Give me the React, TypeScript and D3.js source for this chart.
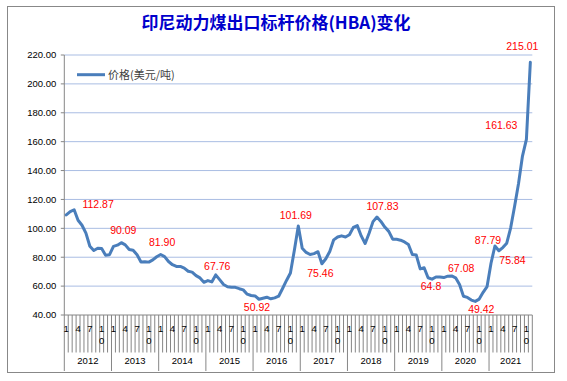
import React from "react";
import * as d3 from "d3";

const years = [2012, 2013, 2014, 2015, 2016, 2017, 2018, 2019, 2020, 2021];
const p2012 = [109.29, 111.58, 112.87, 105.61, 102.12, 96.65, 87.56, 84.65, 86.21, 86.04, 81.44, 81.75];
const p2013 = [87.55, 88.35, 90.09, 88.56, 85.33, 84.87, 81.69, 76.7, 76.89, 76.61, 78.13, 80.31];
const p2014 = [81.9, 80.44, 77.01, 74.81, 73.6, 73.64, 72.45, 70.29, 69.69, 67.26, 65.7, 62.65];
const p2015 = [63.84, 62.92, 67.76, 64.48, 61.08, 59.59, 59.16, 59.14, 58.21, 57.39, 54.43, 53.51];
const p2016 = [53.2, 50.92, 51.62, 52.32, 51.2, 51.87, 53.0, 58.37, 63.93, 69.07, 84.89, 101.69];
const p2017 = [86.23, 83.32, 81.9, 82.51, 83.81, 75.46, 78.95, 83.97, 92.03, 93.99, 94.8, 94.04];
const p2018 = [95.54, 100.69, 101.86, 94.75, 89.53, 96.61, 104.65, 107.83, 104.81, 100.89, 97.9, 92.51];
const p2019 = [92.41, 91.8, 90.57, 88.85, 81.86, 81.48, 71.92, 72.67, 65.79, 64.8, 66.27, 66.3];
const p2020 = [65.93, 66.89, 67.08, 65.77, 61.11, 52.98, 52.16, 50.34, 49.42, 51.0, 55.71, 59.65];
const p2021 = [75.84, 87.79, 84.47, 86.68, 89.74, 100.33, 115.35, 130.99, 150.03, 161.63, 215.01];
const pricesByYear = [p2012, p2013, p2014, p2015, p2016, p2017, p2018, p2019, p2020, p2021];

const monthTickLabels = [1, 4, 7, 10];
const yTicks = [40, 60, 80, 100, 120, 140, 160, 180, 200, 220];

const labelIndices = [2, 14, 24, 38, 49, 59, 65, 79, 93, 98, 104, 109, 108, 117, 118];
const labelTexts = ["112.87", "90.09", "81.90", "67.76", "50.92", "101.69", "75.46", "107.83", "64.8", "67.08", "49.42", "87.79", "75.84", "161.63", "215.01"];
// label offsets (pixels) relative to the data point
const labelDx = [24, 2, 1.5, 1.5, -2, -2.5, -1.5, 5.5, -1, 9.5, 6, -7, 21.5, -25, -8];
const labelDy = [-5.5, -12, -12, -9, 8, -11, 9.5, -11, 7.5, -7.6, 8, -5.5, -3, -13.6, -15.5];

const title = "印尼动力煤出口标杆价格(HBA)变化";
const legendLabel = "价格(美元/吨)";
const seriesName = legendLabel;

type Pt = { i: number; year: number; month: number; v: number };
const points: Pt[] = [];
pricesByYear.forEach((arr, yi) => {
  arr.forEach((v, mi) => {
    points.push({ i: points.length, year: years[yi], month: mi + 1, v });
  });
});

const W = 567;
const H = 381;
const left = 64.3;
const right = 532.3;
const top = 55;
const bottom = 315;

const FONT = "'Liberation Sans', Arial, sans-serif";
const CJK = "'Noto Sans CJK SC', 'Noto Sans', sans-serif";

export default function App() {
  const x = d3.scaleBand<number>().domain(points.map((p) => p.i)).range([left, right]).padding(0);
  const y = d3.scaleLinear().domain([40, 220]).range([bottom, top]);
  const bw = x.bandwidth();
  const cx = (i: number) => (x(i) as number) + bw / 2;

  const line = d3
    .line<Pt>()
    .x((p) => cx(p.i))
    .y((p) => y(p.v));

  // year groups
  const groups = years.map((yr) => {
    const ps = points.filter((p) => p.year === yr);
    const x0 = x(ps[0].i) as number;
    const x1 = (x(ps[ps.length - 1].i) as number) + bw;
    return { yr, x0, x1 };
  });

  return (
    <svg
      width={W}
      height={H}
      style={{ position: "absolute", left: 0, top: 0, background: "#fff" }}
    >
      <rect x={0} y={0} width={W} height={H} fill="#fff" />
      <rect x={7.5} y={6.5} width={547} height={366} fill="#fff" stroke="#888" strokeWidth={1} />

      <text
        x={276}
        y={29}
        textAnchor="middle"
        fontFamily={CJK}
        fontWeight="bold"
        fontSize={17}
        fill="#0000CC"
      >
        {title}
      </text>

      {/* gridlines */}
      {yTicks
        .filter((t) => t > 40)
        .map((t) => (
          <line key={"g" + t} x1={left} x2={right} y1={y(t)} y2={y(t)} stroke="#A9BDE3" strokeWidth={1} />
        ))}

      {/* y axis */}
      <line x1={left} x2={left} y1={top} y2={bottom} stroke="#868686" strokeWidth={1} />
      {yTicks.map((t) => (
        <g key={"yt" + t}>
          <line x1={left - 3.5} x2={left} y1={y(t)} y2={y(t)} stroke="#868686" />
          <text
            x={left - 8}
            y={y(t)}
            dy="0.35em"
            textAnchor="end"
            fontFamily={FONT}
            fontSize={9.5}
            fill="#000"
          >
            {t.toFixed(2)}
          </text>
        </g>
      ))}

      {/* x axis */}
      <line x1={left} x2={right} y1={bottom} y2={bottom} stroke="#868686" strokeWidth={1} />
      {points.map((p) => (
        <line
          key={"mt" + p.i}
          x1={(x(p.i) as number)}
          x2={(x(p.i) as number)}
          y1={bottom}
          y2={p.month === 1 ? 371 : 352.5}
          stroke="#868686"
          strokeWidth={1}
        />
      ))}
      <line x1={right} x2={right} y1={bottom} y2={371} stroke="#868686" strokeWidth={1} />
      {points
        .filter((p) => monthTickLabels.includes(p.month))
        .map((p) => {
          const s = String(p.month);
          return (
            <g key={"ml" + p.i}>
              {s.split("").map((ch, k) => (
                <text
                  key={k}
                  x={cx(p.i)}
                  y={329 + k * 12}
                  dy="0.35em"
                  textAnchor="middle"
                  fontFamily={FONT}
                  fontSize={9.5}
                  fill="#000"
                >
                  {ch}
                </text>
              ))}
            </g>
          );
        })}
      {groups.map((g) => (
        <text
          key={"yr" + g.yr}
          x={(g.x0 + g.x1) / 2}
          y={361}
          dy="0.35em"
          textAnchor="middle"
          fontFamily={FONT}
          fontSize={9.5}
          fill="#000"
        >
          {g.yr}
        </text>
      ))}

      {/* series */}
      <path
        d={line(points) || ""}
        fill="none"
        stroke="#4A7EBB"
        strokeWidth={3}
        strokeLinejoin="round"
        strokeLinecap="round"
      >
        <title>{seriesName}</title>
      </path>

      {/* data labels */}
      {labelIndices.map((idx, k) => {
        const p = points[idx];
        return (
          <text
            key={"dl" + k}
            x={cx(p.i) + labelDx[k]}
            y={y(p.v) + labelDy[k]}
            dy="0.35em"
            textAnchor="middle"
            fontFamily={FONT}
            fontSize={10.5}
            fill="#FF0000"
          >
            {labelTexts[k]}
          </text>
        );
      })}

      {/* legend */}
      <line x1={77} x2={105} y1={74.7} y2={74.7} stroke="#4A7EBB" strokeWidth={3} />
      <text x={108} y={74.7} dy="0.35em" fontFamily={CJK} fontSize={11} fill="#404040">
        {legendLabel}
      </text>
    </svg>
  );
}
